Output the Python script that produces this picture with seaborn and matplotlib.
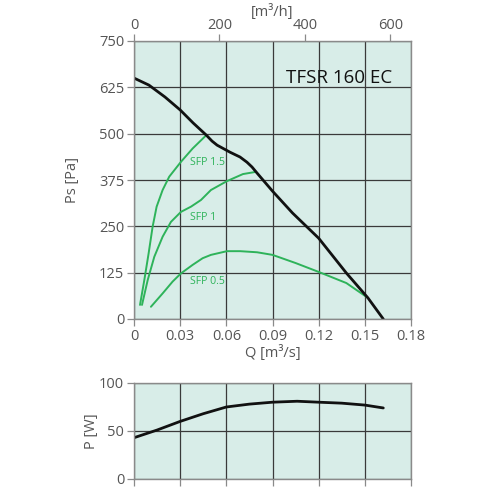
import numpy as np
import pandas as pd
import matplotlib
matplotlib.use("Agg")
import matplotlib.pyplot as plt
import seaborn as sns

# ---- data ----
fan_q = [0, 0.0097, 0.0201, 0.030, 0.0384, 0.047, 0.0507, 0.054, 0.0624, 0.0689, 0.0734, 0.0767, 0.0799,
         0.090, 0.103, 0.120, 0.138, 0.152, 0.162]
fan_ps = [650, 631, 599, 564, 529, 496, 480, 469, 450, 437, 423, 410, 394,
          345, 286, 218, 124, 57, 0]

sfp15_q = [0.0039, 0.0067, 0.0095, 0.0121, 0.0147, 0.0186, 0.0229, 0.0305, 0.0381, 0.047]
sfp15_ps = [38, 105, 177, 249, 303, 348, 384, 424, 460, 496]

sfp1_q = [0.0052, 0.0089, 0.0132, 0.0186, 0.0240, 0.0305, 0.0370, 0.0435, 0.050, 0.0604, 0.0708, 0.0793]
sfp1_ps = [38, 105, 168, 222, 262, 289, 303, 321, 348, 372, 391, 397]

sfp05_q = [0.0110, 0.0186, 0.0251, 0.0305, 0.0381, 0.0446, 0.050, 0.0604, 0.069, 0.080, 0.090, 0.105, 0.120, 0.138, 0.152]
sfp05_ps = [33, 69, 101, 123, 146, 164, 173, 183, 183, 180, 173, 151, 127, 97, 57]

pow_q = [0, 0.015, 0.030, 0.045, 0.060, 0.075, 0.090, 0.106, 0.120, 0.135, 0.150, 0.162]
pow_w = [43, 51, 60, 68, 75, 78, 80, 81, 80, 79, 77, 74]

sfp_labels = ["SFP 1.5", "SFP 1", "SFP 0.5"]
sfp_label_pos = [(0.0364, 421), (0.0364, 275), (0.0364, 100)]

ps_ticks = [0, 125, 250, 375, 500, 625, 750]
q_ticks = [0, 0.03, 0.06, 0.09, 0.12, 0.15, 0.18]
q_ticklabels = ["0", "0.03", "0.06", "0.09", "0.12", "0.15", "0.18"]
m3h_ticks = [0, 200, 400, 600]
p_ticks = [0, 50, 100]
title = "TFSR 160 EC"

sns.set_theme(style="white")
plt.rcParams['font.family'] = ['Open Sans', 'DejaVu Sans']

BG = "#d8ede8"
GREEN = "#2eb35a"
GRID = "#3a3a3a"
TXT = "#555555"
SPINE = "#8a8a8a"

fig = plt.figure(figsize=(5, 5), dpi=100)
ax = fig.add_axes([0.268, 0.362, 0.554, 0.556])
axp = fig.add_axes([0.268, 0.042, 0.554, 0.192])

def style(a):
    a.set_facecolor(BG)
    for s in a.spines.values():
        s.set_color(SPINE)
        s.set_linewidth(1.0)
    a.grid(True, color=GRID, linewidth=0.9)
    a.set_axisbelow(True)
    a.tick_params(axis='both', which='major', direction='out', length=5, width=0.9,
                  color=SPINE, labelsize=10.5, labelcolor=TXT, bottom=True, left=True, pad=2)

style(ax)
style(axp)

# green SFP curves
for q, p in [(sfp15_q, sfp15_ps), (sfp1_q, sfp1_ps), (sfp05_q, sfp05_ps)]:
    df = pd.DataFrame({"q": q, "p": p})
    sns.lineplot(data=df, x="q", y="p", ax=ax, color=GREEN, linewidth=1.4, sort=False)

df = pd.DataFrame({"q": fan_q, "p": fan_ps})
sns.lineplot(data=df, x="q", y="p", ax=ax, color="#111111", linewidth=2.0, sort=False)

for lab, (x, y) in zip(sfp_labels, sfp_label_pos):
    ax.text(x, y, lab, color=GREEN, fontsize=7.6, ha="left", va="center")

ax.text(0.168, 650, title, fontsize=13.5, color="#111111", ha="right", va="center")

ax.set_xlim(0, 0.18)
ax.set_ylim(0, 750)
ax.set_xticks(q_ticks)
ax.set_xticklabels(q_ticklabels)
ax.set_yticks(ps_ticks)
ax.set_xlabel("Q [m³/s]", fontsize=10.5, color=TXT, labelpad=1)
ax.set_ylabel("Ps [Pa]", fontsize=10.5, color=TXT)
ax.yaxis.set_label_coords(-0.195, 0.5)

top = ax.twiny()
top.set_xlim(0, 0.18 * 3600)
top.set_xticks(m3h_ticks)
top.tick_params(axis='x', direction='out', length=5, width=0.9, color=SPINE,
                labelsize=10.5, labelcolor=TXT, top=True, pad=1)
for s in top.spines.values():
    s.set_visible(False)
top.set_xlabel("[m³/h]", fontsize=10.5, color=TXT, labelpad=1)

dfp = pd.DataFrame({"q": pow_q, "p": pow_w})
sns.lineplot(data=dfp, x="q", y="p", ax=axp, color="#111111", linewidth=2.0, sort=False)
axp.set_xlim(0, 0.18)
axp.set_ylim(0, 100)
axp.set_xticks(q_ticks)
axp.set_xticklabels([])
axp.set_yticks(p_ticks)
axp.set_xlabel("")
axp.set_ylabel("P [W]", fontsize=10.5, color=TXT)
axp.yaxis.set_label_coords(-0.125, 0.5)

fig.savefig("out.png", dpi=100)
